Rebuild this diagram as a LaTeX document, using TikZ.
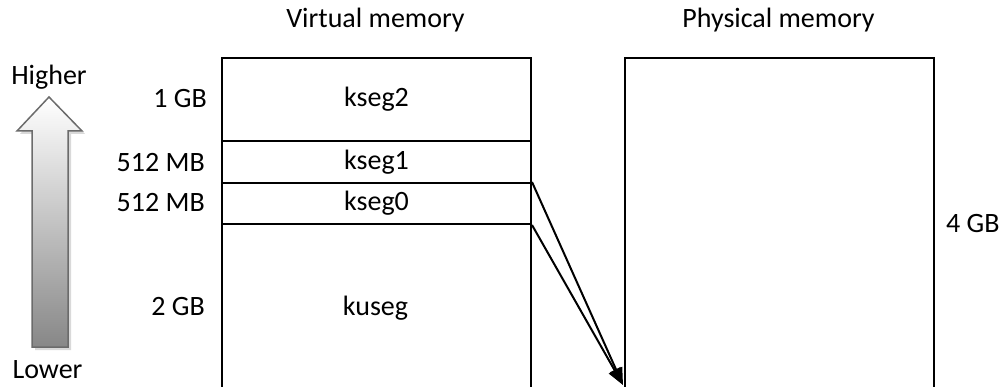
\documentclass[tikz,border=0pt]{standalone}
\usepackage{fontspec}
\setmainfont{Carlito}
\usetikzlibrary{arrows.meta}
\begin{document}
\begin{tikzpicture}[x=1pt,y=-1pt,
  every node/.style={font=\fontsize{28}{34}\selectfont, inner sep=0pt},
  seg/.style={draw, line width=2pt, minimum width=309pt, anchor=north west},
  size/.style={anchor=base east},
  title/.style={anchor=base},
  map/.style={line width=2pt, -{Triangle[length=17pt,width=13pt]}},
]
\useasboundingbox (0,0) rectangle (1003,387);
\clip (0,0) rectangle (1003,387);

% direction arrow: shadow, then shaded body
\fill[gray!30] (52,100) -- (85,134) -- (71,134) -- (71,350) -- (35,350) -- (35,134) -- (20,134) -- cycle;
\shadedraw[top color=white, bottom color=black!47, draw=black!58, line width=1.5pt]
  (49,97) -- (82,131) -- (68,131) -- (68,347) -- (32,347) -- (32,131) -- (17,131) -- cycle;
\node[title] (hi) at (49,85) {Higher};
\node[title] (lo) at (47.5,378) {Lower};

% virtual address space
\node[title] (vt) at (375.5,28) {Virtual memory};
\node[seg, minimum height=83pt] (kseg2) at (221,57) {kseg2};
\node[seg, minimum height=42pt] (kseg1) at (221,140) {kseg1};
\node[seg, minimum height=41pt] (kseg0) at (221,182) {kseg0};
\node[seg, minimum height=220pt] (kuseg) at (221,223) {};
\node[title] (kusegtxt) at (375.5,315) {kuseg};

\node[size] (s2) at (207,108) {1 GB};
\node[size] (s1) at (205,172) {512 MB};
\node[size] (s0) at (205,212) {512 MB};
\node[size] (su) at (205,315) {2 GB};

% physical address space
\node[title] (pt) at (778.5,28) {Physical memory};
\node[seg, minimum height=420pt] (phys) at (624,57) {};
\node[anchor=base west] (ps) at (946,233) {4 GB};

% kseg0 maps directly onto physical memory
\coordinate (tip) at (623,385);
\draw[map] (kseg0.north east) -- (tip);
\draw[map] (kseg0.south east) -- (tip);
\end{tikzpicture}
\end{document}
